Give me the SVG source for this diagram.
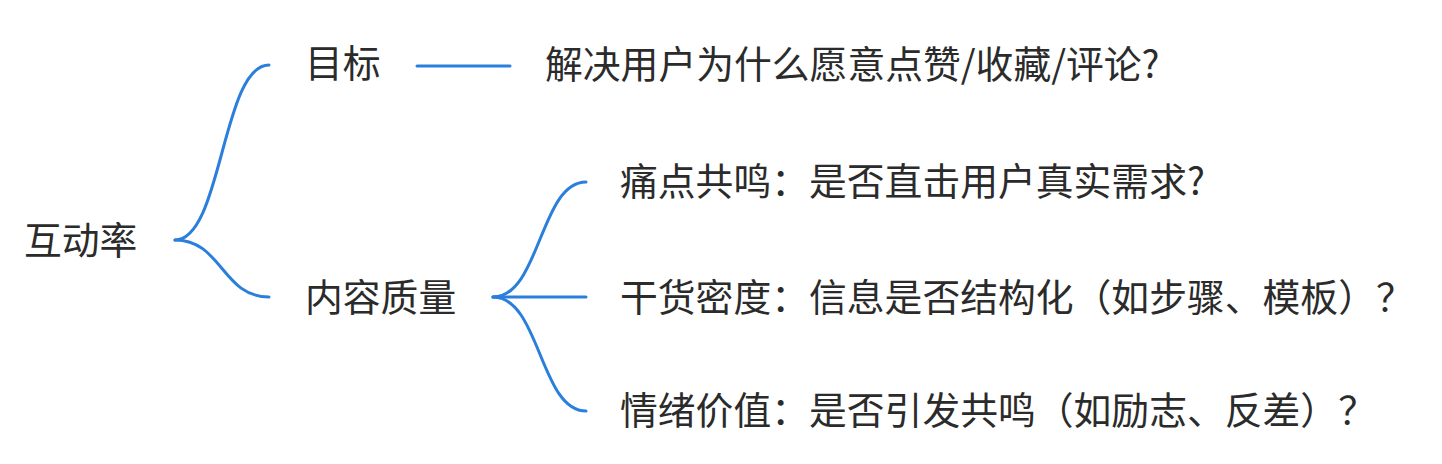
<svg xmlns="http://www.w3.org/2000/svg" width="1442" height="464" viewBox="0 0 1442 464">
<style>
.t{font-family:"Noto Sans CJK SC","Noto Sans",sans-serif;font-size:37.8px;fill:#2b2b2b}
.c{fill:none;stroke:#2a7fdc;stroke-width:3;stroke-linecap:round}
</style>
<rect width="1442" height="464" fill="#ffffff"/>
<g id="connectors">
<path class="c" d="M175,240 C222,240 222,65 269,65"/>
<path class="c" d="M175,240 C222,240 222,297 269,297"/>
<path class="c" d="M417,66 L510,66"/>
<path class="c" d="M493,297 C540,297 540,182 586,182"/>
<path class="c" d="M493,297 L586,297"/>
<path class="c" d="M493,297 C540,297 540,411 586,411"/>
</g>
<g id="root"><text class="t" x="24" y="254">互动率</text></g>
<g id="goal"><text class="t" x="305" y="77">目标</text></g>
<g id="goal-detail"><text class="t" x="545" y="78">解决用户为什么愿意点赞/收藏/评论?</text></g>
<g id="quality"><text class="t" x="305" y="311">内容质量</text></g>
<g id="pain"><text class="t" x="620" y="195">痛点共鸣：是否直击用户真实需求?</text></g>
<g id="density"><text class="t" x="620" y="311">干货密度：信息是否结构化（如步骤、模板）？</text></g>
<g id="emotion"><text class="t" x="620" y="424">情绪价值：是否引发共鸣（如励志、反差）？</text></g>
</svg>
